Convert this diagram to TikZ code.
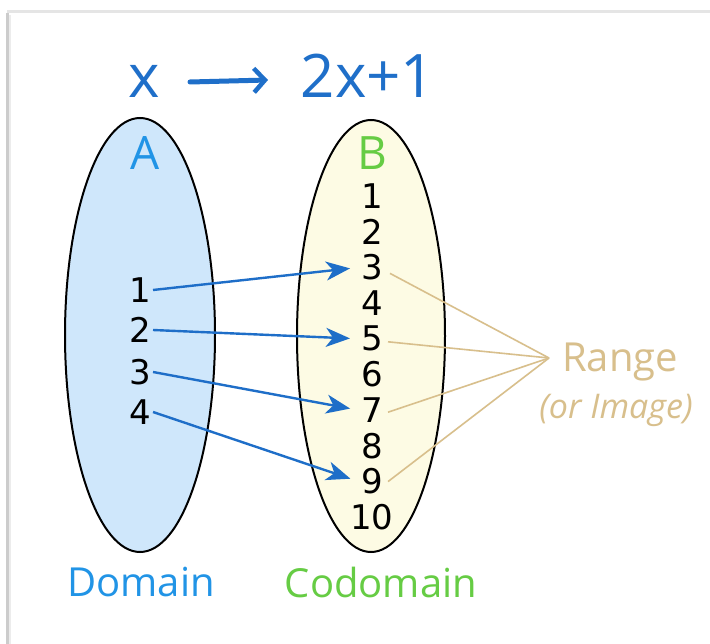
\documentclass[tikz,border=0pt]{standalone}
\usepackage{fontspec}
\setmainfont{Open Sans}
\newfontfamily\numfont{DejaVu Sans}
\usetikzlibrary{shapes.geometric,arrows.meta,calc}

\definecolor{titleblue}{HTML}{1F6FC9}
\definecolor{setblue}{HTML}{2194E6}
\definecolor{setgreen}{HTML}{66CC44}
\definecolor{domfill}{HTML}{CFE7FB}
\definecolor{codfill}{HTML}{FDFBE4}
\definecolor{arrowblue}{HTML}{1E6EC8}
\definecolor{rangetan}{HTML}{D8BF8C}

\tikzset{
  setshape/.style={ellipse, draw=black, line width=2pt, inner sep=0pt},
  elem/.style={font=\numfont\fontsize{34}{36}\selectfont, text=black, inner sep=2pt},
  setname/.style={font=\fontsize{46}{50}\selectfont, inner sep=0pt},
  caption/.style={font=\fontsize{40}{44}\selectfont, inner sep=0pt},
  maparrow/.style={draw=arrowblue, line width=2.4pt, shorten >=9pt,
    -{Stealth[length=24pt,width=19pt,inset=7pt]}},
  rangeline/.style={draw=rangetan, line width=1.6pt},
}

\begin{document}
\begin{tikzpicture}[x=1pt,y=-1pt]
  \useasboundingbox (0,0) rectangle (710,644);
  % card with a soft shadow on its top and left edges
  \fill[white] (0,0) rectangle (710,644);
  \draw[gray!20, line width=3pt] (7,12) -- (710,12);
  \draw[gray!40, line width=3pt] (7,13) -- (7,644);
  \draw[gray!15, line width=2pt] (10,15) -- (10,644);

  % title: x -> 2x+1
  \node[font=\fontsize{60}{64}\selectfont, text=titleblue, anchor=base, inner sep=0pt] (tx) at (144,98) {x};
  \node[font=\fontsize{60}{64}\selectfont, text=titleblue, anchor=base, inner sep=0pt] (tfx) at (368,98) {2x+1};
  \coordinate (ta) at (190,82);
  \coordinate (tb) at (268,80);
  \draw[titleblue, line width=5pt, line cap=round, -{Straight Barb[length=11pt,width=24pt,line width=4.5pt]}] (ta) -- (tb);

  % the two sets
  \node[setshape, fill=domfill, minimum width=150, minimum height=434] (setA) at (140,335) {};
  \node[setshape, fill=codfill, minimum width=148, minimum height=432] (setB) at (371,336) {};
  \node[setname, text=setblue] (labA) at (145,153) {A};
  \node[setname, text=setgreen] (labB) at (372,153) {B};

  % domain elements
  \foreach \n/\y in {1/290, 2/330, 3/372, 4/412}
    \node[elem] (A\n) at (140,\y) {\n};

  % codomain elements
  \foreach \n in {1,...,10}
    \node[elem] (B\n) at (372,{196+35.7*(\n-1)}) {\n};

  % x -> 2x+1
  \draw[maparrow] (A1.east) -- (B3.west);
  \draw[maparrow] (A2.east) -- (B5.west);
  \draw[maparrow] (A3.east) -- (B7.west);
  \draw[maparrow] (A4.east) -- (B9.west);

  % range
  \coordinate (rg) at (549,358);
  \draw[rangeline] ($(B3.east)+(5,6)$) -- (rg);
  \draw[rangeline] ($(B5.east)+(3,3)$) -- (rg);
  \draw[rangeline] ($(B7.east)+(3,2)$) -- (rg);
  \draw[rangeline] ($(B9.east)+(3,0)$) -- (rg);
  \node[caption, text=rangetan] (range) at (620,362) {Range};
  \node[font=\itshape\fontsize{34}{36}\selectfont, text=rangetan, inner sep=0pt] (image) at (616,410) {(or Image)};

  % captions
  \node[caption, text=setblue] (dom) at (141,582) {Domain};
  \node[caption, text=setgreen] (cod) at (381,582) {Codomain};
\end{tikzpicture}
\end{document}
